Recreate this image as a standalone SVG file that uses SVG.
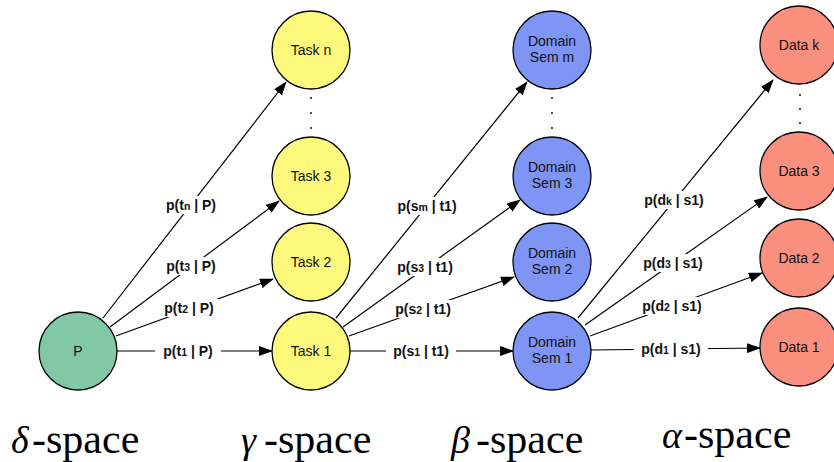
<svg xmlns="http://www.w3.org/2000/svg" width="834" height="462" viewBox="0 0 834 462">
<defs>
<marker id="arr" markerUnits="userSpaceOnUse" markerWidth="14" markerHeight="10" viewBox="0 0 14 10" refX="13" refY="5" orient="auto">
<path d="M0,0 L14,5 L0,10 z" fill="#000"/>
</marker>
<style>
.n circle{stroke:#000;stroke-width:1.3}
.task circle{fill:#fdf97c}
.dom circle{fill:#7e95f6}
.data circle{fill:#fa8f7e}
.nt{font-family:'Liberation Sans',Arial,Helvetica,sans-serif;font-size:14px;text-anchor:middle;fill:#111}
.e line{stroke:#000;stroke-width:1.2;marker-end:url(#arr)}
.lb rect{fill:#fff}
.lb text{font-family:'Liberation Sans',Arial,Helvetica,sans-serif;font-size:14px;font-weight:bold;text-anchor:middle;fill:#111}
.sb{font-size:10.5px}
.dot{fill:#222}
</style>
</defs>
<rect width="834" height="462" fill="#fff"/>
<g id="connectors" class="e">
<line x1="117" y1="351" x2="272" y2="351"/>
<line x1="116" y1="336" x2="273" y2="279"/>
<line x1="110" y1="327" x2="279" y2="201"/>
<line x1="103" y1="318" x2="286" y2="82"/>
<line x1="350" y1="351" x2="513" y2="351"/>
<line x1="349" y1="336" x2="514" y2="277"/>
<line x1="343" y1="327" x2="520" y2="200"/>
<line x1="336" y1="318" x2="527" y2="82"/>
<line x1="591" y1="350" x2="760" y2="348"/>
<line x1="590" y1="336" x2="762" y2="273"/>
<line x1="585" y1="325" x2="767" y2="197"/>
<line x1="578" y1="318" x2="773" y2="80"/>
</g>
<g id="labels" class="lb">
<rect x="155" y="342" width="66" height="18"/><text x="188" y="356">p(t<tspan class="sb">1</tspan> | P)</text>
<rect x="156" y="299" width="66" height="18"/><text x="189" y="313">p(t<tspan class="sb">2</tspan> | P)</text>
<rect x="158" y="257" width="66" height="18"/><text x="191" y="271">p(t<tspan class="sb">3</tspan> | P)</text>
<rect x="158" y="196" width="66" height="18"/><text x="191" y="210">p(t<tspan class="sb">n</tspan> | P)</text>
<rect x="386" y="342" width="70" height="18"/><text x="421" y="356">p(s<tspan class="sb">1</tspan> | t1)</text>
<rect x="388" y="300" width="70" height="18"/><text x="423" y="314">p(s<tspan class="sb">2</tspan> | t1)</text>
<rect x="390" y="258" width="70" height="18"/><text x="425" y="272">p(s<tspan class="sb">3</tspan> | t1)</text>
<rect x="390" y="197" width="74" height="18"/><text x="427" y="211">p(s<tspan class="sb">m</tspan> | t1)</text>
<rect x="634" y="340" width="74" height="18"/><text x="671" y="354">p(d<tspan class="sb">1</tspan> | s1)</text>
<rect x="635" y="297" width="74" height="18"/><text x="672" y="311">p(d<tspan class="sb">2</tspan> | s1)</text>
<rect x="636" y="254" width="74" height="18"/><text x="673" y="268">p(d<tspan class="sb">3</tspan> | s1)</text>
<rect x="637" y="191" width="74" height="18"/><text x="674" y="205">p(d<tspan class="sb">k</tspan> | s1)</text>
</g>
<g id="P" class="n"><circle cx="78" cy="351" r="39" fill="#81c8a7"/><text class="nt" x="78" y="356">P</text></g>
<g id="task1" class="n task"><circle cx="311" cy="351" r="39"/><text class="nt" x="311" y="356">Task 1</text></g>
<g id="task2" class="n task"><circle cx="311" cy="262" r="39"/><text class="nt" x="311" y="267">Task 2</text></g>
<g id="task3" class="n task"><circle cx="311" cy="176" r="39"/><text class="nt" x="311" y="181">Task 3</text></g>
<g id="taskn" class="n task"><circle cx="311" cy="50" r="39"/><text class="nt" x="311" y="55">Task n</text></g>
<g id="dom1" class="n dom"><circle cx="552" cy="351" r="39"/><text class="nt" x="552" y="347">Domain</text><text class="nt" x="552" y="363">Sem 1</text></g>
<g id="dom2" class="n dom"><circle cx="552" cy="262" r="39"/><text class="nt" x="552" y="258">Domain</text><text class="nt" x="552" y="274">Sem 2</text></g>
<g id="dom3" class="n dom"><circle cx="552" cy="176" r="39"/><text class="nt" x="552" y="172">Domain</text><text class="nt" x="552" y="188">Sem 3</text></g>
<g id="domm" class="n dom"><circle cx="552" cy="50" r="39"/><text class="nt" x="552" y="46">Domain</text><text class="nt" x="552" y="62">Sem m</text></g>
<g id="data1" class="n data"><circle cx="799" cy="347" r="39"/><text class="nt" x="799" y="352">Data 1</text></g>
<g id="data2" class="n data"><circle cx="799" cy="258" r="39"/><text class="nt" x="799" y="263">Data 2</text></g>
<g id="data3" class="n data"><circle cx="799" cy="171" r="39"/><text class="nt" x="799" y="176">Data 3</text></g>
<g id="datak" class="n data"><circle cx="799" cy="45" r="39"/><text class="nt" x="799" y="50">Data k</text></g>
<g id="ellipses">
<circle class="dot" cx="311" cy="98" r="1.1"/><circle class="dot" cx="311" cy="113" r="1.1"/><circle class="dot" cx="311" cy="128" r="1.1"/>
<circle class="dot" cx="552" cy="98" r="1.1"/><circle class="dot" cx="552" cy="113" r="1.1"/><circle class="dot" cx="552" cy="128" r="1.1"/>
<circle class="dot" cx="800" cy="95" r="1.1"/><circle class="dot" cx="800" cy="109" r="1.1"/><circle class="dot" cx="800" cy="123" r="1.1"/>
</g>
<g id="spaces" font-size="42" fill="#000">
<text style="font-family:'Liberation Serif',serif;font-style:italic" font-size="38" x="11" y="453">δ</text>
<text style="font-family:'Liberation Serif',serif" x="32" y="453">-</text>
<text style="font-family:'Liberation Serif',serif" x="46" y="453">space</text>
<text style="font-family:'Liberation Serif',serif;font-style:italic" font-size="38" x="241" y="453">γ</text>
<text style="font-family:'Liberation Serif',serif" x="264" y="453">-</text>
<text style="font-family:'Liberation Serif',serif" x="278" y="453">space</text>
<text style="font-family:'Liberation Serif',serif;font-style:italic" font-size="38" x="451" y="453">β</text>
<text style="font-family:'Liberation Serif',serif" x="476" y="453">-</text>
<text style="font-family:'Liberation Serif',serif" x="490" y="453">space</text>
<text style="font-family:'Liberation Serif',serif;font-style:italic" font-size="38" x="662" y="448">α</text>
<text style="font-family:'Liberation Serif',serif" x="684" y="448">-</text>
<text style="font-family:'Liberation Serif',serif" x="698" y="448">space</text>
</g>
</svg>
